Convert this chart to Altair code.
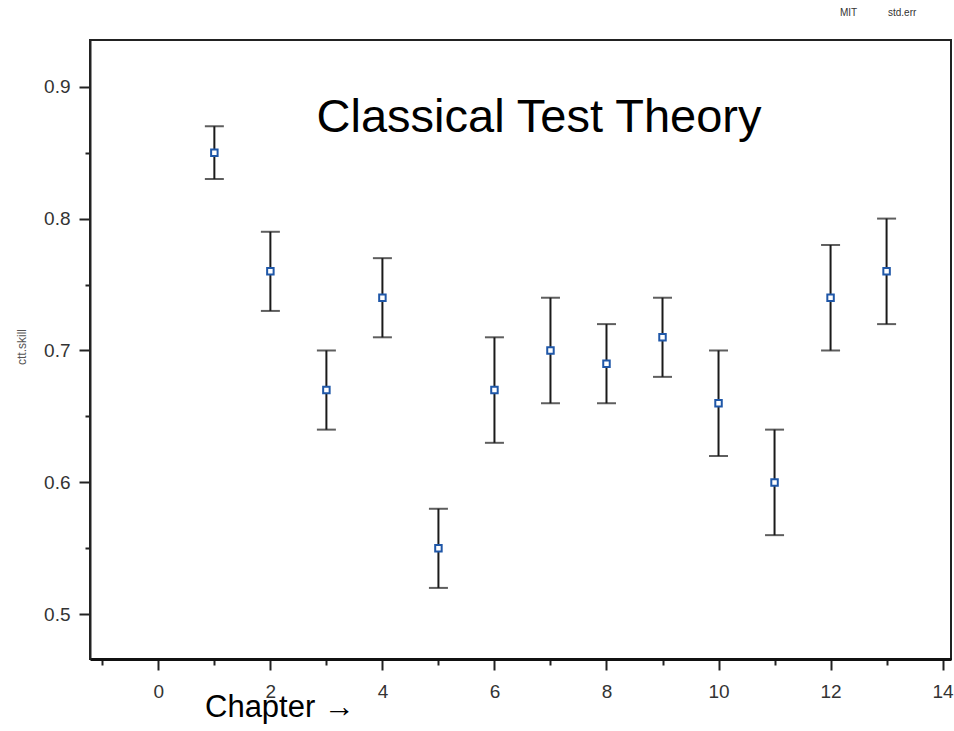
import altair as alt
import pandas as pd

chapters = [1, 2, 3, 4, 5, 6, 7, 8, 9, 10, 11, 12, 13]
skill = [0.85, 0.76, 0.67, 0.74, 0.55, 0.67, 0.70, 0.69, 0.71, 0.66, 0.60, 0.74, 0.76]
lower = [0.83, 0.73, 0.64, 0.71, 0.52, 0.63, 0.66, 0.66, 0.68, 0.62, 0.56, 0.70, 0.72]
upper = [0.87, 0.79, 0.70, 0.77, 0.58, 0.71, 0.74, 0.72, 0.74, 0.70, 0.64, 0.78, 0.80]

x_ticks = [-1, 0, 1, 2, 3, 4, 5, 6, 7, 8, 9, 10, 11, 12, 13, 14]
y_ticks = [0.5, 0.55, 0.6, 0.65, 0.7, 0.75, 0.8, 0.85, 0.9]

df = pd.DataFrame({"chapter": chapters, "skill": skill, "lo": lower, "hi": upper})

FONT = "Liberation Sans"
W, H = 861, 619

xscale = alt.Scale(domain=[-1.22, 14.15], nice=False, zero=False)
yscale = alt.Scale(domain=[0.4661, 0.9354], nice=False, zero=False)

xaxis = alt.Axis(
    values=x_ticks,
    labelExpr="datum.value % 2 === 0 ? format(datum.value, 'd') : ''",
    tickSize={"condition": {"test": "datum.value % 2 === 0", "value": 11}, "value": 6},
    tickWidth=2, tickColor="#222",
    domainWidth=3, domainColor="#111",
    labelFont=FONT, labelFontSize=19, labelColor="#333", labelPadding=12,
    labelOverlap=False, labelBound=False, labelFlush=False,
    grid=False, title=None,
)
yaxis = alt.Axis(
    values=y_ticks,
    labelExpr="(round(datum.value*100) % 10 === 0) ? format(datum.value, '.1f') : ''",
    tickSize={"condition": {"test": "round(datum.value*100) % 10 === 0", "value": 11}, "value": 5},
    tickWidth=2, tickColor="#222",
    domainWidth=2, domainColor="#222",
    labelFont=FONT, labelFontSize=19, labelColor="#333", labelPadding=9,
    grid=False, title=None,
)

base = alt.Chart(df)

bars = base.mark_rule(color="#1a1a1a", strokeWidth=2).encode(
    x=alt.X("chapter:Q", scale=xscale, axis=xaxis),
    y=alt.Y("lo:Q", scale=yscale, axis=yaxis),
    y2="hi:Q",
)
cap_lo = base.mark_tick(color="#1a1a1a", thickness=2, size=19, orient="horizontal").encode(
    x="chapter:Q", y="lo:Q"
)
cap_hi = base.mark_tick(color="#1a1a1a", thickness=2, size=19, orient="horizontal").encode(
    x="chapter:Q", y="hi:Q"
)
points = base.mark_point(shape="square", size=42, filled=False, fill="white", fillOpacity=1,
                         stroke="#1f57a8", strokeWidth=2, opacity=1).encode(
    x="chapter:Q", y="skill:Q"
)

title_txt = alt.Chart(pd.DataFrame({"t": ["Classical Test Theory"]})).mark_text(
    font=FONT, fontSize=47, color="#000", align="center", baseline="alphabetic"
).encode(text="t:N", x=alt.value(449), y=alt.value(92))

chapter_txt = alt.Chart(pd.DataFrame({"t": ["Chapter \u2192"]})).mark_text(
    font=FONT, fontSize=31, color="#000", align="left", baseline="alphabetic"
).encode(text="t:N", x=alt.value(115), y=alt.value(677))

ylab_txt = alt.Chart(pd.DataFrame({"t": ["ctt.skill"]})).mark_text(
    font=FONT, fontSize=12, color="#555", align="center", baseline="middle", angle=270
).encode(text="t:N", x=alt.value(-68), y=alt.value(307))

mit_txt = alt.Chart(pd.DataFrame({"t": ["MIT"]})).mark_text(
    font=FONT, fontSize=10, color="#333", align="left", baseline="middle"
).encode(text="t:N", x=alt.value(750), y=alt.value(-27))

se_txt = alt.Chart(pd.DataFrame({"t": ["std.err"]})).mark_text(
    font=FONT, fontSize=10, color="#333", align="left", baseline="middle"
).encode(text="t:N", x=alt.value(798), y=alt.value(-27))

chart = alt.layer(bars, cap_lo, cap_hi, points, title_txt, chapter_txt, ylab_txt, mit_txt, se_txt).properties(
    width=W, height=H,
    autosize=alt.AutoSizeParams(type="none"),
    padding={"left": 90, "top": 40, "right": 3, "bottom": 72},
    background="white",
).configure_view(stroke="#222", strokeWidth=2)

chart.save("out.html", embed_options={"renderer": "svg", "actions": False})
